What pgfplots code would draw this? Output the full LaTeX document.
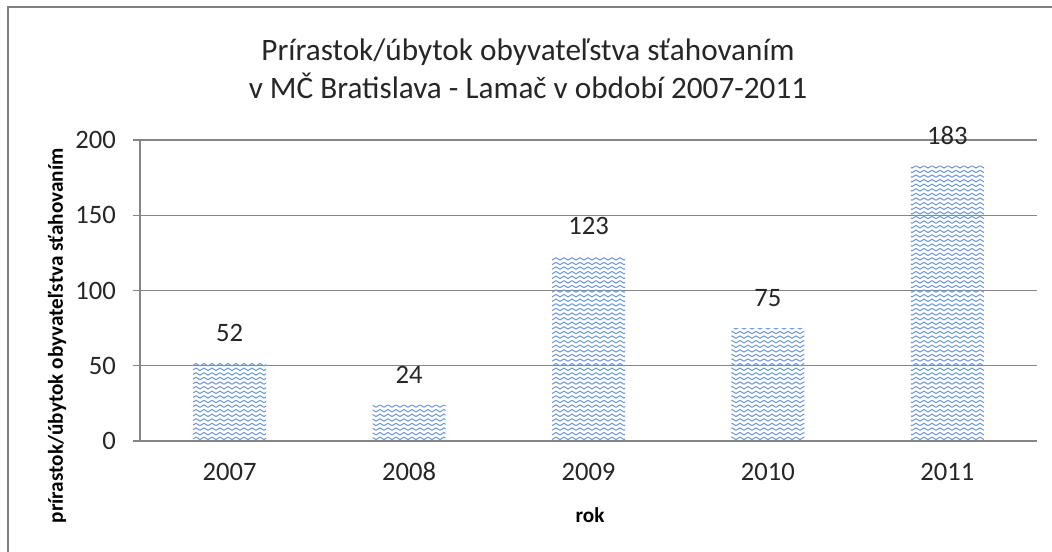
\documentclass[border=0pt]{standalone}
\usepackage{pgfplots}
\pgfplotsset{compat=1.18}
\usepackage{fontspec}
\setmainfont{Carlito}
\usetikzlibrary{patterns}
\definecolor{wavecol}{RGB}{105,150,215}
\definecolor{gridgray}{RGB}{134,134,134}
\definecolor{bordergray}{RGB}{128,128,128}
\pgfdeclarepatternformonly{waves}{\pgfpoint{-0.5pt}{-0.5pt}}{\pgfpoint{4.5pt}{2.8pt}}{\pgfpoint{4pt}{2.3pt}}{%
  \pgfsetlinewidth{0.5pt}%
  \pgfpathmoveto{\pgfpoint{0pt}{0.55pt}}%
  \pgfpathcurveto{\pgfpoint{0.7pt}{0.55pt}}{\pgfpoint{1.3pt}{1.75pt}}{\pgfpoint{2pt}{1.75pt}}%
  \pgfpathcurveto{\pgfpoint{2.7pt}{1.75pt}}{\pgfpoint{3.3pt}{0.55pt}}{\pgfpoint{4pt}{0.55pt}}%
  \pgfusepath{stroke}%
}
\begin{document}
\begin{tikzpicture}
\useasboundingbox (-70pt,-55pt) rectangle (456pt,220.5pt);
\draw[bordergray, line width=1.2pt] (-66pt,-60pt) -- (-66pt,217pt) -- (460pt,217pt);
\begin{axis}[
  at={(0,0)}, anchor=south west,
  scale only axis,
  width=448.5pt, height=150.5pt,
  xmin=-0.5, xmax=4.5,
  ymin=0, ymax=200,
  ytick={0,50,100,150,200},
  xtick={0,1,2,3,4},
  xticklabels={2007,2008,2009,2010,2011},
  axis lines*=left,
  axis line style={gridgray, line width=0.6pt, -},
  ymajorgrids,
  grid style={gridgray, line width=0.6pt},
  tick align=outside,
  ytick style={gridgray, line width=0.6pt},
  major tick length=3.5pt,
  xtick style={draw=none},
  /pgf/number format/assume math mode=true,
  tick label style={font=\fontsize{13.3}{15}\selectfont, text=black!85},
  yticklabel style={xshift=-5pt},
  xticklabel style={yshift=-3.5pt, text height=9pt, text depth=0pt},
  ybar, bar width=36.5pt,
  nodes near coords,
  every node near coord/.append style={anchor=center, yshift=15pt, font=\fontsize{13.3}{15}\selectfont, text=black!85},
]
\addplot[draw=none, pattern=waves, pattern color=wavecol] coordinates {(0,52) (1,24) (2,123) (3,75) (4,183)};
\end{axis}
\node[align=center, font=\fontsize{15.6}{19}\selectfont, text=black!85] at (194pt,186pt) {Prírastok/úbytok obyvateľstva sťahovaním\\v MČ Bratislava - Lamač v období 2007-2011};
\node[rotate=90, font=\bfseries\fontsize{10.6}{12}\selectfont] at (-41.5pt,52.5pt) {prírastok/úbytok obyvateľstva sťahovaním};
\node[font=\bfseries\fontsize{10.6}{12}\selectfont] at (225pt,-37pt) {rok};
\end{tikzpicture}
\end{document}
